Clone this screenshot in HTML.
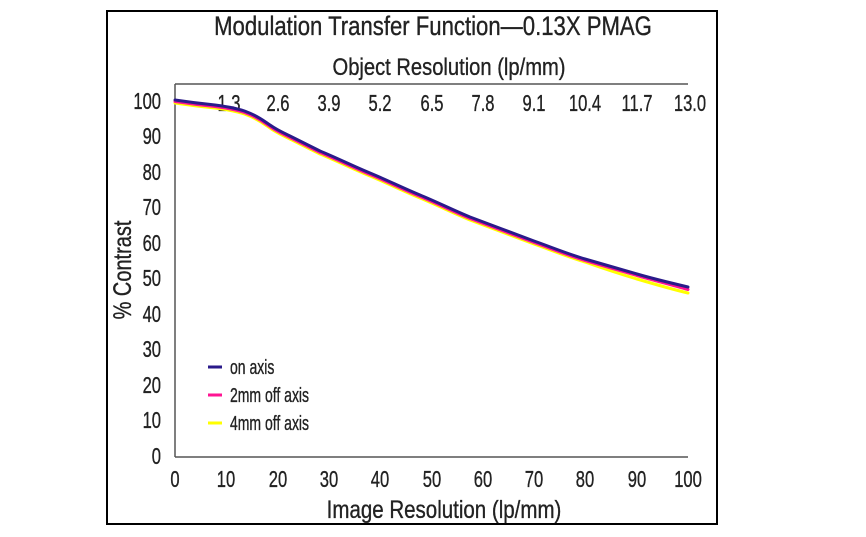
<!DOCTYPE html>
<html><head><meta charset="utf-8"><style>
body{margin:0;background:#fff;}
svg{display:block}
text{font-family:"Liberation Sans",sans-serif;fill:#222;stroke:#222;stroke-width:0.35;}
</style></head><body>
<svg width="866" height="537" viewBox="0 0 866 537">
<rect x="107" y="11" width="610" height="513" fill="#fff" stroke="#000" stroke-width="2"/>
<text transform="translate(433,35) scale(0.82,1)" font-size="27" text-anchor="middle">Modulation Transfer Function—0.13X PMAG</text>
<text transform="translate(449,75) scale(0.84,1)" font-size="24" text-anchor="middle">Object Resolution (lp/mm)</text>
<g stroke="#555" stroke-width="1.5" fill="none">
<line x1="175" y1="84" x2="688" y2="84"/>
<line x1="175" y1="84" x2="175" y2="457"/>
<line x1="175" y1="457" x2="688" y2="457"/>
</g>
<g font-size="23" text-anchor="end">
<text transform="translate(161,109) scale(0.72,1)">100</text>
<text transform="translate(161,144) scale(0.72,1)">90</text>
<text transform="translate(161,180) scale(0.72,1)">80</text>
<text transform="translate(161,215) scale(0.72,1)">70</text>
<text transform="translate(161,251) scale(0.72,1)">60</text>
<text transform="translate(161,286) scale(0.72,1)">50</text>
<text transform="translate(161,322) scale(0.72,1)">40</text>
<text transform="translate(161,357) scale(0.72,1)">30</text>
<text transform="translate(161,393) scale(0.72,1)">20</text>
<text transform="translate(161,428) scale(0.72,1)">10</text>
<text transform="translate(161,464) scale(0.72,1)">0</text>
</g>
<g font-size="23" text-anchor="middle">
<text transform="translate(175,487) scale(0.72,1)">0</text>
<text transform="translate(226,487) scale(0.72,1)">10</text>
<text transform="translate(278,487) scale(0.72,1)">20</text>
<text transform="translate(329,487) scale(0.72,1)">30</text>
<text transform="translate(380,487) scale(0.72,1)">40</text>
<text transform="translate(432,487) scale(0.72,1)">50</text>
<text transform="translate(483,487) scale(0.72,1)">60</text>
<text transform="translate(534,487) scale(0.72,1)">70</text>
<text transform="translate(585,487) scale(0.72,1)">80</text>
<text transform="translate(637,487) scale(0.72,1)">90</text>
<text transform="translate(688,487) scale(0.72,1)">100</text>
<text transform="translate(229,111) scale(0.72,1)">1.3</text>
<text transform="translate(278,111) scale(0.72,1)">2.6</text>
<text transform="translate(329,111) scale(0.72,1)">3.9</text>
<text transform="translate(380,111) scale(0.72,1)">5.2</text>
<text transform="translate(432,111) scale(0.72,1)">6.5</text>
<text transform="translate(483,111) scale(0.72,1)">7.8</text>
<text transform="translate(534,111) scale(0.72,1)">9.1</text>
<text transform="translate(585,111) scale(0.72,1)">10.4</text>
<text transform="translate(637,111) scale(0.72,1)">11.7</text>
<text transform="translate(690,111) scale(0.72,1)">13.0</text>
</g>
<text transform="translate(444,518) scale(0.82,1)" font-size="25" text-anchor="middle">Image Resolution (lp/mm)</text>
<text transform="translate(131,270) rotate(-90) scale(0.8,1)" font-size="25" text-anchor="middle">% Contrast</text>
<g fill="none" stroke-width="3" stroke-linecap="round" stroke-linejoin="round">
<path stroke="#ffff00" transform="translate(0,3)" d="M175,100 C195,103 205,104 215,105 C230,107 240,109 247,112 C258,116 264,121 270,125 C277,130 284,133 290,136 C300,141 310,146 320,151 C337,158 353,166 370,173 C387,180 403,188 420,195 C437,202 453,210 470,217 C491,225 513,233 534,241 C551,247 568,254 585,259 C602,265 620,271 637,276 C654,281 671,286 688,290"/>
<path stroke="#ff1493" transform="translate(0,1.5)" d="M175,100 C195,103 205,104 215,105 C230,107 240,109 247,112 C258,116 264,121 270,125 C277,130 284,133 290,136 C300,141 310,146 320,151 C337,158 353,166 370,173 C387,180 403,188 420,195 C437,202 453,210 470,217 C491,225 513,233 534,241 C551,247 568,254 585,259 C602,264 620,269 637,274 C654,279 671,283 688,288"/>
<path stroke="#2a1a8a" d="M175,100 C195,103 205,104 215,105 C230,107 240,109 247,112 C258,116 264,121 270,125 C277,130 284,133 290,136 C300,141 310,146 320,151 C337,158 353,166 370,173 C387,180 403,188 420,195 C437,202 453,210 470,217 C491,225 513,233 534,241 C551,247 568,254 585,259 C602,264 620,269 637,274 C654,279 671,283 688,287"/>
</g>
<g stroke-width="3">
<line x1="208" y1="367" x2="222" y2="367" stroke="#2a1a8a"/>
<line x1="208" y1="395" x2="222" y2="395" stroke="#ff1493"/>
<line x1="208" y1="423" x2="222" y2="423" stroke="#ffff00"/>
</g>
<g font-size="20">
<text transform="translate(230,374) scale(0.7,1)">on axis</text>
<text transform="translate(230,402) scale(0.7,1)">2mm off axis</text>
<text transform="translate(230,430) scale(0.7,1)">4mm off axis</text>
</g>
</svg>
</body></html>
